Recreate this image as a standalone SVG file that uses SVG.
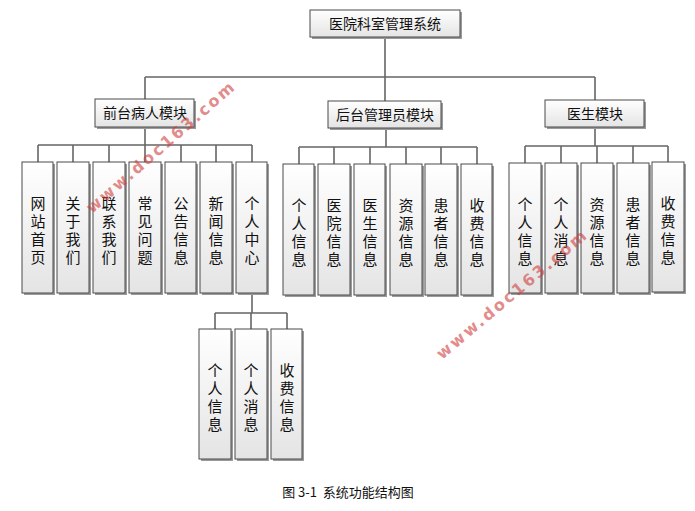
<svg xmlns="http://www.w3.org/2000/svg" width="695" height="511" viewBox="0 0 695 511">
<defs>
<linearGradient id="g" x1="0" y1="0" x2="0" y2="1"><stop offset="0" stop-color="#ffffff"/><stop offset="1" stop-color="#e4e4e4"/></linearGradient>
<style>
.b{fill:url(#g);stroke:#4a4a4a;stroke-width:1}
.s{fill:#9a9a9a}
.t{font-family:"Noto Sans CJK SC","Liberation Sans",sans-serif;font-size:14px;fill:#111;text-anchor:middle}
.v{font-family:"Noto Sans CJK SC","Liberation Sans",sans-serif;font-size:15px;fill:#111;writing-mode:vertical-rl;text-orientation:upright;letter-spacing:3px}
.c{fill:none;stroke:#666;stroke-width:1.6}
.w{font-family:"DejaVu Sans",sans-serif;font-size:16px;font-weight:bold;fill:#d04040;opacity:0.6}
</style>
</defs>
<rect width="695" height="511" fill="#fff"/>
<g id="connectors" class="c">
<path d="M385 37V77M145 77H595M145 77V99M385 77V101M595 77V100"/>
<path d="M145 127V145M38 145H252M38 145V162M73 145V162M109 145V162M145 145V162M181 145V162M216 145V162M252 145V162"/>
<path d="M386 128V147M299 147H477M299 147V164M334 147V164M370 147V164M406 147V164M441 147V164M477 147V164"/>
<path d="M595 127V146M525 146H668M525 146V163M561 146V163M597 146V163M633 146V163M668 146V162"/>
<path d="M252 293V313M215 313H287M215 313V329M251 313V329M287 313V329"/>
</g>
<g id="root"><rect class="s" x="312" y="12" width="150" height="27"/><rect class="b" x="310" y="10" width="150" height="27"/><text class="t" x="385" y="29">医院科室管理系统</text></g>
<g id="front"><rect class="s" x="97" y="101" width="99" height="28"/><rect class="b" x="95" y="99" width="99" height="28"/><text class="t" x="145" y="118">前台病人模块</text></g>
<g id="admin"><rect class="s" x="330" y="103" width="113" height="27"/><rect class="b" x="328" y="101" width="113" height="27"/><text class="t" x="385" y="120">后台管理员模块</text></g>
<g id="doctor"><rect class="s" x="547" y="102" width="99" height="27"/><rect class="b" x="545" y="100" width="99" height="27"/><text class="t" x="595" y="119">医生模块</text></g>
<g id="f1"><rect class="s" x="24" y="164" width="31" height="131"/><rect class="b" x="22" y="162" width="31" height="131"/><text class="v" x="38" y="196">网站首页</text></g>
<g id="f2"><rect class="s" x="59" y="164" width="32" height="131"/><rect class="b" x="57" y="162" width="32" height="131"/><text class="v" x="73" y="196">关于我们</text></g>
<g id="f3"><rect class="s" x="95" y="164" width="32" height="131"/><rect class="b" x="93" y="162" width="32" height="131"/><text class="v" x="109" y="196">联系我们</text></g>
<g id="f4"><rect class="s" x="131" y="164" width="32" height="131"/><rect class="b" x="129" y="162" width="32" height="131"/><text class="v" x="145" y="196">常见问题</text></g>
<g id="f5"><rect class="s" x="167" y="164" width="31" height="131"/><rect class="b" x="165" y="162" width="31" height="131"/><text class="v" x="181" y="196">公告信息</text></g>
<g id="f6"><rect class="s" x="202" y="164" width="32" height="131"/><rect class="b" x="200" y="162" width="32" height="131"/><text class="v" x="216" y="196">新闻信息</text></g>
<g id="f7"><rect class="s" x="238" y="164" width="31" height="131"/><rect class="b" x="236" y="162" width="31" height="131"/><text class="v" x="252" y="196">个人中心</text></g>
<g id="a1"><rect class="s" x="285" y="166" width="31" height="131"/><rect class="b" x="283" y="164" width="31" height="131"/><text class="v" x="299" y="198">个人信息</text></g>
<g id="a2"><rect class="s" x="320" y="166" width="32" height="131"/><rect class="b" x="318" y="164" width="32" height="131"/><text class="v" x="334" y="198">医院信息</text></g>
<g id="a3"><rect class="s" x="356" y="166" width="31" height="131"/><rect class="b" x="354" y="164" width="31" height="131"/><text class="v" x="370" y="198">医生信息</text></g>
<g id="a4"><rect class="s" x="392" y="166" width="32" height="131"/><rect class="b" x="390" y="164" width="32" height="131"/><text class="v" x="406" y="198">资源信息</text></g>
<g id="a5"><rect class="s" x="427" y="166" width="32" height="131"/><rect class="b" x="425" y="164" width="32" height="131"/><text class="v" x="441" y="198">患者信息</text></g>
<g id="a6"><rect class="s" x="463" y="166" width="31" height="131"/><rect class="b" x="461" y="164" width="31" height="131"/><text class="v" x="477" y="198">收费信息</text></g>
<g id="d1"><rect class="s" x="511" y="165" width="32" height="130"/><rect class="b" x="509" y="163" width="32" height="130"/><text class="v" x="525" y="197">个人信息</text></g>
<g id="d2"><rect class="s" x="547" y="165" width="32" height="130"/><rect class="b" x="545" y="163" width="32" height="130"/><text class="v" x="561" y="197">个人消息</text></g>
<g id="d3"><rect class="s" x="583" y="165" width="32" height="130"/><rect class="b" x="581" y="163" width="32" height="130"/><text class="v" x="597" y="197">资源信息</text></g>
<g id="d4"><rect class="s" x="619" y="165" width="32" height="130"/><rect class="b" x="617" y="163" width="32" height="130"/><text class="v" x="633" y="197">患者信息</text></g>
<g id="d5"><rect class="s" x="654" y="164" width="32" height="130"/><rect class="b" x="652" y="162" width="32" height="130"/><text class="v" x="668" y="196">收费信息</text></g>
<g id="p1"><rect class="s" x="201" y="331" width="32" height="130"/><rect class="b" x="199" y="329" width="32" height="130"/><text class="v" x="215" y="363">个人信息</text></g>
<g id="p2"><rect class="s" x="237" y="331" width="32" height="130"/><rect class="b" x="235" y="329" width="32" height="130"/><text class="v" x="251" y="363">个人消息</text></g>
<g id="p3"><rect class="s" x="273" y="331" width="31" height="130"/><rect class="b" x="271" y="329" width="31" height="130"/><text class="v" x="287" y="363">收费信息</text></g>
<text class="w" transform="translate(92,214) rotate(-41)" textLength="190" lengthAdjust="spacing">www.doc163.com</text>
<text class="w" transform="translate(442,360) rotate(-40)" textLength="190" lengthAdjust="spacing">www.doc163.com</text>
<text x="348" y="497" style="font-family:'Noto Sans CJK SC','DejaVu Sans Mono',monospace;font-size:13px;fill:#111;text-anchor:middle" xml:space="preserve">图 3-1  系统功能结构图</text>
</svg>
